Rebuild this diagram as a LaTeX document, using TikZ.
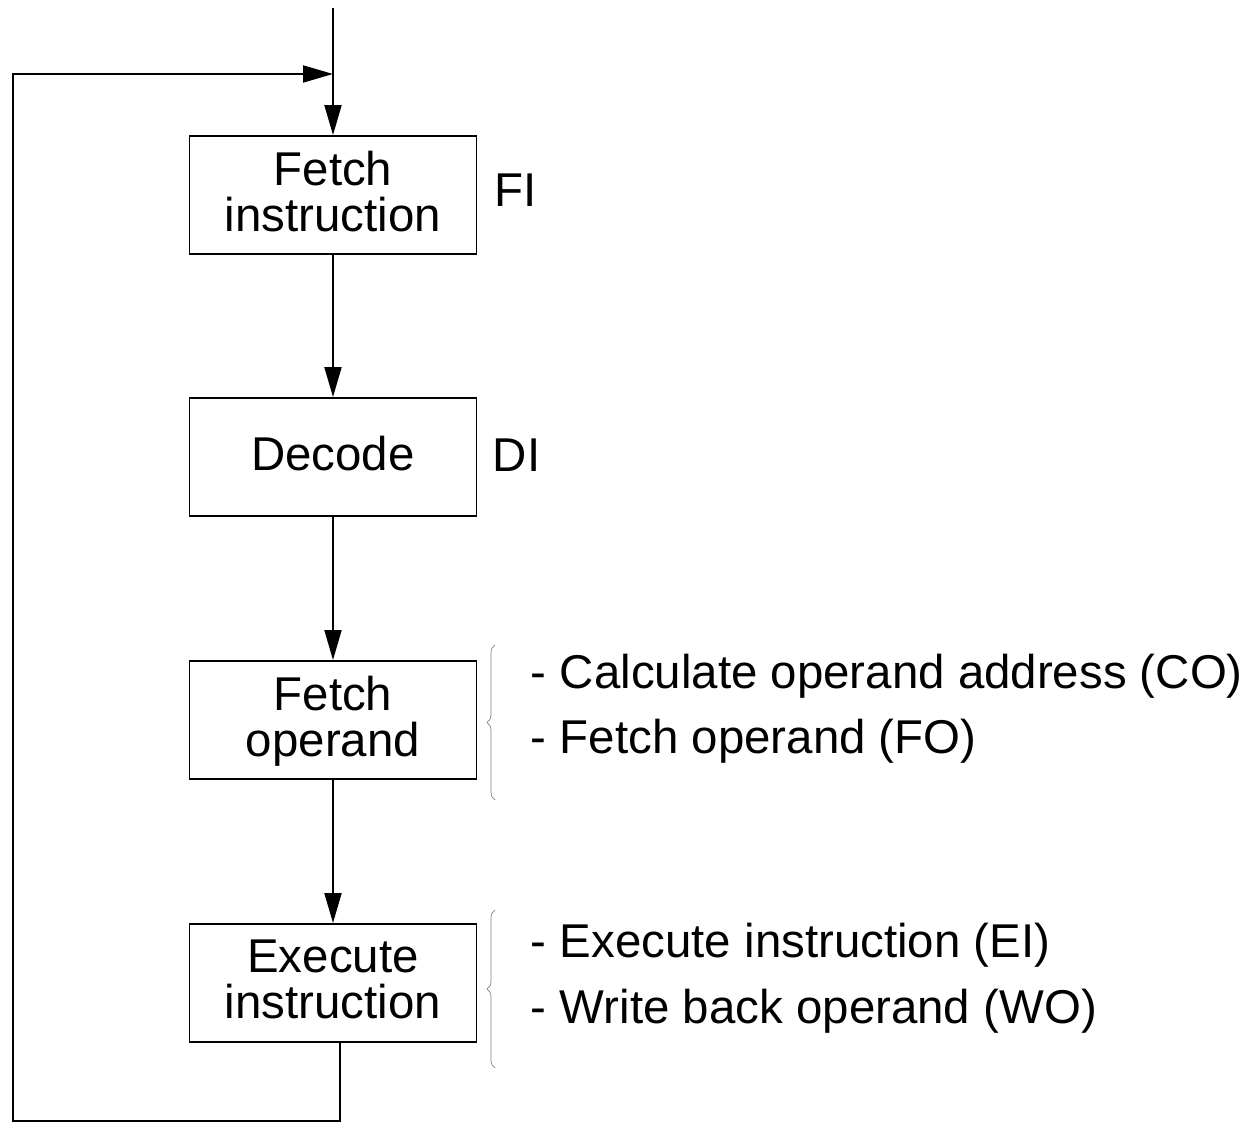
\documentclass[tikz,border=0pt]{standalone}
\usepackage{fontspec}
\setmainfont{Liberation Sans}
\usetikzlibrary{arrows.meta,positioning,decorations.pathreplacing}
\tikzset{
block/.style = {draw, rectangle, align=center, minimum width=5.74cm, minimum height=2.36cm, text depth=0.45em, font=\fontsize{27}{26}\selectfont},
tag/.style = {anchor=west, inner sep=0pt, font=\fontsize{27}{26}\selectfont},
brc/.style = {draw=gray, thin, decorate, decoration={brace, amplitude=0.16cm}}
}
\begin{document}
\begin{tikzpicture}[x=0.02cm, y=-0.02cm, line width=1.1pt, >={Triangle[length=0.6cm,width=0.34cm]}]
\useasboundingbox (0,0) rectangle (1252,1124);
% stages
\node [block] (fi) at (333,195) {Fetch\\instruction};
\node [block] (di) at (333,457) {Decode};
\node [block] (fo) at (333,720) {Fetch\\operand};
\node [block] (ei) at (333,983) {Execute\\instruction};
% short names
\node [tag] (filab) at (494,190) {FI};
\node [tag] (dilab) at (492,455) {DI};
% sub-steps
\draw [brc] (495,800) -- (495,645);
\draw [brc] (495,1068) -- (495,910);
\node [tag] (co) at (530,676) {- Calculate operand address (CO)};
\node [tag] (fop) at (530,741) {- Fetch operand (FO)};
\node [tag] (ex) at (530,945) {- Execute instruction (EI)};
\node [tag] (wo) at (530,1011) {- Write back operand (WO)};
% flow
\coordinate (start) at (333,8);
\coordinate (join) at (333,74);
\coordinate (corner) at (13,1121);
\draw (start) -- (join);
\draw [->] (join) -- (fi.north);
\draw [->] (fi) -- (di);
\draw [->] (di) -- (fo);
\draw [->] (fo) -- (ei);
\draw [->] ([xshift=0.14cm]ei.south) |- (corner) |- (join);
\end{tikzpicture}
\end{document}
